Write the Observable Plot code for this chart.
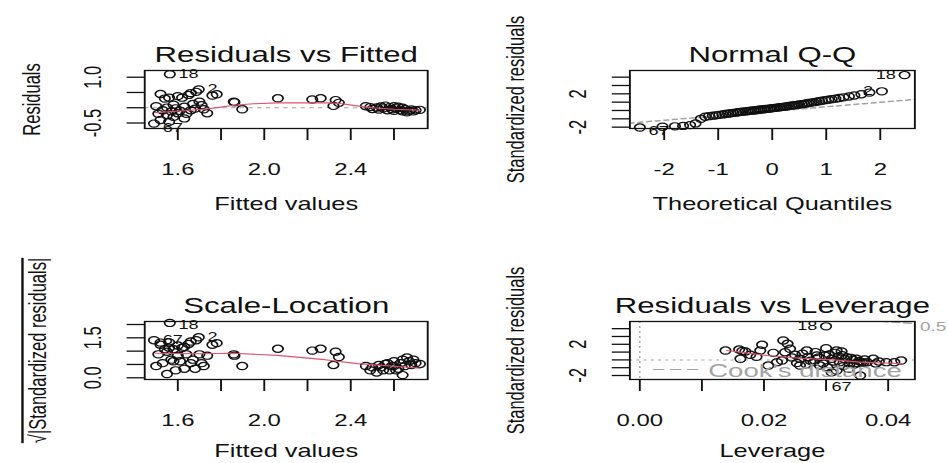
<!DOCTYPE html>
<html><head><meta charset="utf-8">
<script src="https://cdn.jsdelivr.net/npm/d3@7"></script>
<script src="https://cdn.jsdelivr.net/npm/@observablehq/plot@0.6"></script>
<style>
html,body{margin:0;padding:0;background:#fff;overflow:hidden;}
#wrap{position:relative;width:654px;height:463px;transform:scaleX(1.45);transform-origin:0 0;}
#wrap svg{position:absolute;}
</style></head><body><div id="wrap"></div>
<script>
// ---------- data ----------
const fitted = [1.563,1.697,1.685,1.66,1.78,1.76,1.56,1.52,1.60,1.65,1.54,1.58,1.62,1.67,1.71,1.50,1.55,1.59,1.63,1.68,1.53,1.57,1.61,1.66,1.51,1.55,1.60,1.736,1.49,1.52,1.56,1.63,1.58,1.64,1.70,1.72,
  1.859,1.862,1.898,2.063,2.222,2.261,2.33,2.345,2.32,
  2.47,2.49,2.50,2.52,2.53,2.54,2.55,2.56,2.57,2.58,2.59,2.60,2.60,2.61,2.62,2.63,2.64,2.64,2.65,2.66,2.67,2.68,2.69,2.70,2.72];
const residuals = [1.10,0.60,0.52,0.48,0.44,0.40,0.33,0.45,0.38,0.42,0.30,0.10,0.33,0.12,0.08,0.05,0.005,-0.02,0.03,-0.03,-0.08,-0.12,-0.10,-0.08,-0.20,-0.25,-0.18,-0.18,-0.52,-0.40,-0.46,-0.35,-0.30,-0.20,0.20,-0.05,
  0.20,0.18,-0.05,0.31,0.27,0.31,0.25,0.16,0.06,
  0.05,0.02,-0.04,0.01,-0.06,0.04,-0.02,0.07,-0.08,0.02,-0.05,0.05,-0.10,-0.02,0.03,-0.08,-0.12,0.00,-0.05,-0.15,-0.10,-0.06,-0.12,-0.08,-0.07];
const sqrtStdRes = [2.06,1.52,1.41,1.36,1.30,1.24,1.13,1.32,1.21,1.27,1.07,0.62,1.13,0.68,0.55,0.44,0.14,0.28,0.34,0.34,0.55,0.68,0.62,0.55,0.88,0.98,0.83,0.83,1.41,1.24,1.33,1.16,1.07,0.88,0.88,0.44,
  0.88,0.83,0.44,1.09,1.02,1.09,0.98,0.78,0.48,
  0.44,0.28,0.39,0.20,0.48,0.39,0.28,0.52,0.55,0.28,0.44,0.44,0.62,0.28,0.34,0.55,0.68,0.10,0.44,0.76,0.62,0.48,0.68,0.55,0.52];
const qqTheoretical = [-2.45,-2.03,-1.80,-1.65,-1.52,-1.42,-1.32,-1.24,-1.17,-1.10,-1.04,-0.98,-0.92,-0.87,-0.82,-0.77,-0.72,-0.67,-0.63,-0.59,-0.55,-0.50,-0.46,-0.42,-0.39,-0.35,-0.31,-0.27,-0.24,-0.20,-0.16,-0.13,-0.09,-0.05,-0.02,
  0.02,0.05,0.09,0.13,0.16,0.20,0.24,0.27,0.31,0.35,0.39,0.42,0.46,0.50,0.55,0.59,0.63,0.67,0.72,0.77,0.82,0.87,0.92,0.98,1.04,1.10,1.17,1.24,1.32,1.42,1.52,1.65,1.80,2.03,2.45];
const qqSample = [-2.05,-1.95,-1.90,-1.85,-1.75,-1.55,-1.00,-0.75,-0.68,-0.62,-0.58,-0.52,-0.47,-0.42,-0.38,-0.33,-0.29,-0.25,-0.21,-0.17,-0.14,-0.11,-0.08,-0.05,-0.02,0.00,0.03,0.06,0.09,0.12,0.15,0.18,0.20,0.23,0.26,
  0.29,0.32,0.35,0.38,0.41,0.44,0.47,0.50,0.54,0.58,0.62,0.65,0.68,0.72,0.76,0.80,0.85,0.90,0.95,1.00,1.06,1.12,1.18,1.24,1.30,1.36,1.42,1.50,1.58,1.68,1.80,1.95,2.15,2.30,4.25];
const leverage = [0.0138,0.0160,0.0165,0.0170,0.0162,0.0178,0.0197,0.0194,0.0207,0.0221,0.0231,0.0238,0.0234,0.0242,0.0229,0.0250,0.0258,0.0269,0.0271,0.0280,
  0.0285,0.0300,0.0298,0.0290,0.0309,0.0317,0.0325,0.0322,0.0333,0.0338,0.0349,0.0357,0.0355,0.0336,0.0317,0.0309,0.0376,0.0397,0.0421,0.0258,
  0.0300,0.0262,0.0275,0.0288,0.0295,0.0305,0.0312,0.0320,0.0328,0.0330,0.0343,0.0350,0.0353,0.0360,0.0362,0.0366,0.0345,0.0340,0.0283,0.0245,
  0.0215,0.0188,0.0253,0.0268,0.0315,0.0326,0.0302,0.0380,0.0410,0.0385];
const stdResLev = [1.20,1.33,1.15,1.08,0.14,0.65,1.94,1.20,-0.72,-0.29,2.49,2.06,0.99,1.42,-0.08,0.65,0.14,1.20,0.35,-0.29,
  0.56,1.50,0.56,-0.72,0.14,1.20,1.08,-0.29,0.35,-0.50,0.14,-0.29,-2.00,-1.14,-1.36,-1.60,0.14,-0.29,-0.08,-0.72,
  4.30,0.80,-0.10,0.30,-0.45,0.70,-0.20,0.45,-0.80,0.10,0.00,-0.40,-0.15,-0.35,0.05,-0.30,-0.60,0.25,1.00,0.30,
  0.90,0.40,-0.40,-0.55,0.90,0.60,-0.95,-0.45,-0.30,-0.20];

// smoothers and reference lines
const smooth1X = [1.497,1.56,1.64,1.72,1.80,1.86,1.95,2.06,2.20,2.30,2.36,2.42,2.50,2.60,2.72];
const smooth1Y = [-0.16,-0.13,-0.09,-0.05,0.02,0.08,0.13,0.16,0.16,0.16,0.13,0.07,0.00,-0.05,-0.08];
const qqLineX = [-2.64,2.64];
const qqLineY = [-1.52,1.33];
const smooth3X = [1.497,1.60,1.70,1.86,2.06,2.28,2.43,2.585,2.72];
const smooth3Y = [0.92,0.91,0.90,0.92,0.84,0.68,0.53,0.44,0.36];
const smooth4X = [0.0140,0.0205,0.0258,0.0312,0.0355,0.0424];
const smooth4Y = [1.20,0.56,0.22,0.00,-0.29,-0.50];
const cookX = [0.0388,0.0400,0.0420,0.0443];
const cookY = [4.95,4.88,4.78,4.68];

// labelled observations: [index into the series, label]
const idFitted = [[0,"18"],[1,"2"],[28,"67"]];
const idQQ = [[69,"18"],[68,"2"],[0,"67"]];
const idLev = [[40,"18"],[32,"67"]];

// ticks
const fitTicks = [1.6,1.8,2.0,2.2,2.4,2.6];
const fitTickLabels = ["1.6","","2.0","","2.4",""];
const resTicks = [-0.5,0,0.5,1.0];
const resTickLabels = ["-0.5","","","1.0"];
const qqXTicks = [-2,-1,0,1,2];
const qqXTickLabels = ["-2","-1","0","1","2"];
const stdTicks = [-2,-1,0,1,2,3,4];
const stdTickLabels = ["-2","","","","2","",""];
const slTicks = [0,0.5,1.0,1.5,2.0];
const slTickLabels = ["0.0","","","1.5",""];
const levTicks = [0,0.01,0.02,0.03,0.04];
const levTickLabels = ["0.00","","0.02","","0.04"];

// ---------- layout ----------
const K = 1.45;                 // horizontal stretch of the original picture
const INK = "#111";
const RED = "#DF536B";
const GREY = "#a3a3a3";
const FONT = "'Liberation Sans', Arial, Helvetica, sans-serif";
const wrap = document.getElementById("wrap");

function fmt(ticks, labels) { return d => labels[ticks.indexOf(d)] ?? ""; }

function panel(o) {
  const W = o.wReal / K;
  const svg = Plot.plot({
    width: W, height: o.h,
    marginLeft: (o.frameL - o.left) / K,
    marginRight: (o.left + o.wReal - o.frameR) / K,
    marginTop: o.frameT - o.top,
    marginBottom: o.top + o.h - o.frameB,
    x: {domain: o.xDomain},
    y: {domain: o.yDomain},
    style: {fontFamily: FONT, color: INK, background: "transparent"},
    marks: [
      ...o.marks,
      Plot.frame({stroke: INK, strokeWidth: 1.3}),
      Plot.axisX({ticks: o.xTicks, tickFormat: fmt(o.xTicks, o.xLabels), tickSize: 12, tickPadding: 23, strokeWidth: 1.3, fontSize: 16.5, label: null}),
      Plot.axisX({ticks: [], tickSize: 0, label: o.xTitle, labelAnchor: "center", labelArrow: "none", labelOffset: o.xTitleOffset, fontSize: 17.5}),
      Plot.axisY({ticks: o.yTicks, tickFormat: fmt(o.yTicks, o.yLabels), tickRotate: -90, tickSize: 12, tickPadding: 18, strokeWidth: 1.3, fontSize: 16.5, label: null}),
      Plot.axisY({ticks: [], tickSize: 0, label: o.yTitle, labelAnchor: "center", labelArrow: "none", labelOffset: o.yTitleOffset, fontSize: 16.5}),
      Plot.text([o.title], {text: d => d, frameAnchor: "top", lineAnchor: "bottom", dy: -8.5, fontSize: 21.5, fill: INK})
    ]
  });
  svg.style.left = (o.left / K) + "px";
  svg.style.top = o.top + "px";
  wrap.appendChild(svg);
  return svg;
}

function dots(xs, ys) {
  return Plot.dot(xs.map((x, i) => i), {x: i => xs[i], y: i => ys[i], r: 3.6, stroke: INK, strokeWidth: 1.2, fill: "none"});
}
function ids(xs, ys, list, anchor, dy = 0) {
  return Plot.text(list, {x: d => xs[d[0]], y: d => ys[d[0]], text: d => d[1], textAnchor: anchor, dx: anchor === "start" ? 6 : -6, dy, fontSize: 12.5, fill: INK});
}
function curve(xs, ys, opts) {
  return Plot.line(xs.map((x, i) => i), {x: i => xs[i], y: i => ys[i], ...opts});
}

// Residuals vs Fitted
panel({left: 0, top: 0, wReal: 474, h: 231, frameL: 144, frameR: 427, frameT: 70, frameB: 128,
  xDomain: [1.447, 2.756], yDomain: [-0.68, 1.22],
  xTicks: fitTicks, xLabels: fitTickLabels, yTicks: resTicks, yLabels: resTickLabels,
  xTitle: "Fitted values", xTitleOffset: 82, yTitle: "Residuals", yTitleOffset: 84, title: "Residuals vs Fitted",
  marks: [
    Plot.ruleY([0], {stroke: GREY, strokeDasharray: "3,3"}),
    dots(fitted, residuals),
    curve(smooth1X, smooth1Y, {stroke: RED, strokeWidth: 1.1}),
    ids(fitted, residuals, idFitted.slice(0, 2), "start"),
    ids(fitted, residuals, idFitted.slice(2), "start", 4)
  ]});

// Normal Q-Q
panel({left: 474, top: 0, wReal: 474, h: 231, frameL: 629, frameR: 914, frameT: 70, frameB: 128,
  xDomain: [-2.635, 2.64], yDomain: [-2.16, 4.8],
  xTicks: qqXTicks, xLabels: qqXTickLabels, yTicks: stdTicks, yLabels: stdTickLabels,
  xTitle: "Theoretical Quantiles", xTitleOffset: 82, yTitle: "Standardized residuals", yTitleOffset: 85, title: "Normal Q-Q",
  marks: [
    curve(qqLineX, qqLineY, {stroke: GREY, strokeDasharray: "3,3", clip: true}),
    dots(qqTheoretical, qqSample),
    ids(qqTheoretical, qqSample, idQQ.slice(0, 2), "end"),
    ids(qqTheoretical, qqSample, idQQ.slice(2), "start", 3)
  ]});

// Scale-Location
const slSvg = panel({left: 0, top: 231, wReal: 474, h: 232, frameL: 144, frameR: 427, frameT: 321, frameB: 379,
  xDomain: [1.447, 2.756], yDomain: [-0.064, 2.113],
  xTicks: fitTicks, xLabels: fitTickLabels, yTicks: slTicks, yLabels: slTickLabels,
  xTitle: "Fitted values", xTitleOffset: 78, yTitle: "\u221A|Standardized residuals|", yTitleOffset: 80, title: "Scale-Location",
  marks: [
    dots(fitted, sqrtStdRes),
    curve(smooth3X, smooth3Y, {stroke: RED, strokeWidth: 1.1}),
    ids(fitted, sqrtStdRes, idFitted.slice(0, 1), "start", 2.5),
    ids(fitted, sqrtStdRes, idFitted.slice(1), "start")
  ]});

// Residuals vs Leverage
panel({left: 474, top: 231, wReal: 474, h: 232, frameL: 629, frameR: 914, frameT: 321, frameB: 379,
  xDomain: [-0.0016, 0.0443], yDomain: [-2.51, 4.92],
  xTicks: levTicks, xLabels: levTickLabels, yTicks: stdTicks, yLabels: stdTickLabels,
  xTitle: "Leverage", xTitleOffset: 78, yTitle: "Standardized residuals", yTitleOffset: 85, title: "Residuals vs Leverage",
  marks: [
    Plot.ruleX([0], {stroke: GREY, strokeDasharray: "2,3"}),
    Plot.ruleY([0], {stroke: GREY, strokeDasharray: "2,3"}),
    curve(cookX, cookY, {stroke: GREY, strokeDasharray: "5,3", clip: true}),
    dots(leverage, stdResLev),
    curve(smooth4X, smooth4Y, {stroke: RED, strokeWidth: 1.1}),
    ids(leverage, stdResLev, idLev.slice(0, 1), "end"),
    ids(leverage, stdResLev, idLev.slice(1), "end", 11),
    Plot.text(["\u2013 \u2013 \u2013"], {text: d => d, frameAnchor: "bottom-left", dx: 16, dy: -6, lineAnchor: "bottom", textAnchor: "start", fontSize: 14, fill: GREY}),
    Plot.text(["Cook's distance"], {text: d => d, frameAnchor: "bottom-left", dx: 54, dy: -2.5, lineAnchor: "bottom", textAnchor: "start", fontSize: 19, fill: GREY}),
    Plot.text(["0.5"], {text: d => d, frameAnchor: "top-right", dx: 3.5, dy: 5, lineAnchor: "middle", textAnchor: "start", fontSize: 13, fill: GREY})
  ]});

// radical bar over the Scale-Location y title
slSvg.querySelectorAll('[aria-label="y-axis label"] text').forEach(t => t.style.textDecoration = "overline");
</script>
</body></html>
